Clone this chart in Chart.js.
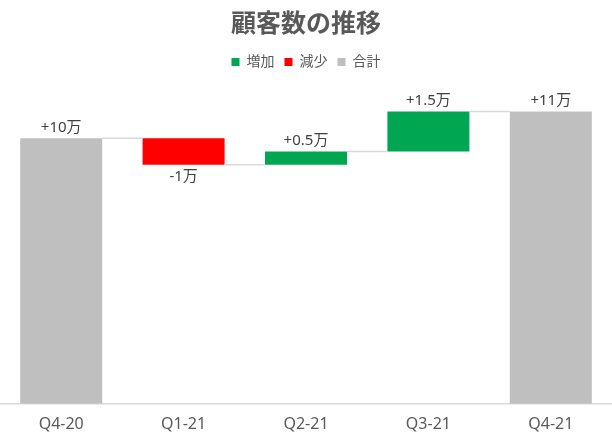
<!DOCTYPE html>
<html>
<head>
<meta charset="utf-8">
<script src="https://cdn.jsdelivr.net/npm/chart.js@4"></script>
<style>
  html, body { margin: 0; padding: 0; background: #fff; }
  #wrap { width: 612px; height: 439px; }
</style>
</head>
<body>
<div id="wrap"><canvas id="myChart"></canvas></div>
<script>
// data
var categories = ['Q4-20', 'Q1-21', 'Q2-21', 'Q3-21', 'Q4-21'];
var changes = [10, -1, 0.5, 1.5, 11];
var isTotal = [true, false, false, false, true];
var valueLabels = ['+10万', '-1万', '+0.5万', '+1.5万', '+11万'];

var FONT = "'Noto Sans', 'Noto Sans CJK JP', sans-serif";

// floating ranges for the waterfall
var upBars = [], downBars = [], totalBars = [];
var running = 0;
for (var i = 0; i < changes.length; i++) {
  if (isTotal[i]) {
    running = changes[i];
    totalBars.push([0, running]);
    upBars.push(null);
    downBars.push(null);
  } else {
    var start = running;
    running = running + changes[i];
    totalBars.push(null);
    if (changes[i] >= 0) {
      upBars.push([start, running]);
      downBars.push(null);
    } else {
      downBars.push([start, running]);
      upBars.push(null);
    }
  }
}

// extra room under the legend
var legendGap = {
  id: 'legendGap',
  beforeInit: function(chart) {
    var fit = chart.legend.fit;
    chart.legend.fit = function() {
      fit.bind(chart.legend)();
      this.height += 6;
    };
  }
};

// connectors + value labels
var waterfallExtras = {
  id: 'waterfallExtras',
  afterDatasetsDraw: function(chart) {
    var ctx = chart.ctx;
    var bars = [];
    chart.data.datasets.forEach(function(ds, di) {
      var meta = chart.getDatasetMeta(di);
      meta.data.forEach(function(el, idx) {
        if (ds.data[idx]) bars[idx] = { el: el, range: ds.data[idx] };
      });
    });
    var y = chart.scales.y;

    ctx.save();
    ctx.strokeStyle = '#D9D9D9';
    ctx.lineWidth = 1.5;
    for (var k = 0; k < bars.length - 1; k++) {
      var a = bars[k].el, b = bars[k + 1].el;
      var lvl = y.getPixelForValue(bars[k].range[1]);
      ctx.beginPath();
      ctx.moveTo(a.x + a.width / 2, lvl);
      ctx.lineTo(b.x - b.width / 2, lvl);
      ctx.stroke();
    }

    ctx.fillStyle = '#404040';
    ctx.font = '15px ' + FONT;
    ctx.textAlign = 'center';
    for (var m = 0; m < bars.length; m++) {
      var el = bars[m].el;
      var r = bars[m].range;
      if (r[1] >= r[0]) {
        ctx.textBaseline = 'bottom';
        ctx.fillText(valueLabels[m], el.x, y.getPixelForValue(r[1]) - 3);
      } else {
        ctx.textBaseline = 'top';
        ctx.fillText(valueLabels[m], el.x, y.getPixelForValue(r[1]) + 5);
      }
    }
    ctx.restore();
  }
};

var ctx = document.getElementById('myChart').getContext('2d');
var chart = new Chart(ctx, {
  type: 'bar',
  data: {
    labels: categories,
    datasets: [
      { label: '増加', data: upBars, backgroundColor: '#00A651', grouped: false },
      { label: '減少', data: downBars, backgroundColor: '#FF0000', grouped: false },
      { label: '合計', data: totalBars, backgroundColor: '#BFBFBF', grouped: false }
    ]
  },
  options: {
    responsive: true,
    maintainAspectRatio: false,
    animation: false,
    barPercentage: 0.67,
    categoryPercentage: 1,
    layout: { padding: { top: 0, left: 0, right: 0, bottom: 2 } },
    plugins: {
      title: {
        display: true,
        text: '顧客数の推移',
        color: '#595959',
        font: { family: FONT, size: 25, weight: 'bold' },
        padding: { top: 10, bottom: 5 }
      },
      legend: {
        display: true,
        labels: {
          color: '#595959',
          font: { family: FONT, size: 14 },
          boxWidth: 8,
          boxHeight: 8,
          padding: 10
        }
      },
      tooltip: { enabled: false }
    },
    scales: {
      x: {
        grid: { display: false },
        border: { color: '#D9D9D9', width: 1.5 },
        ticks: { color: '#595959', font: { family: FONT, size: 16 }, padding: 3 }
      },
      y: {
        display: false,
        min: 0,
        max: 12
      }
    }
  },
  plugins: [legendGap, waterfallExtras]
});
</script>
</body>
</html>
